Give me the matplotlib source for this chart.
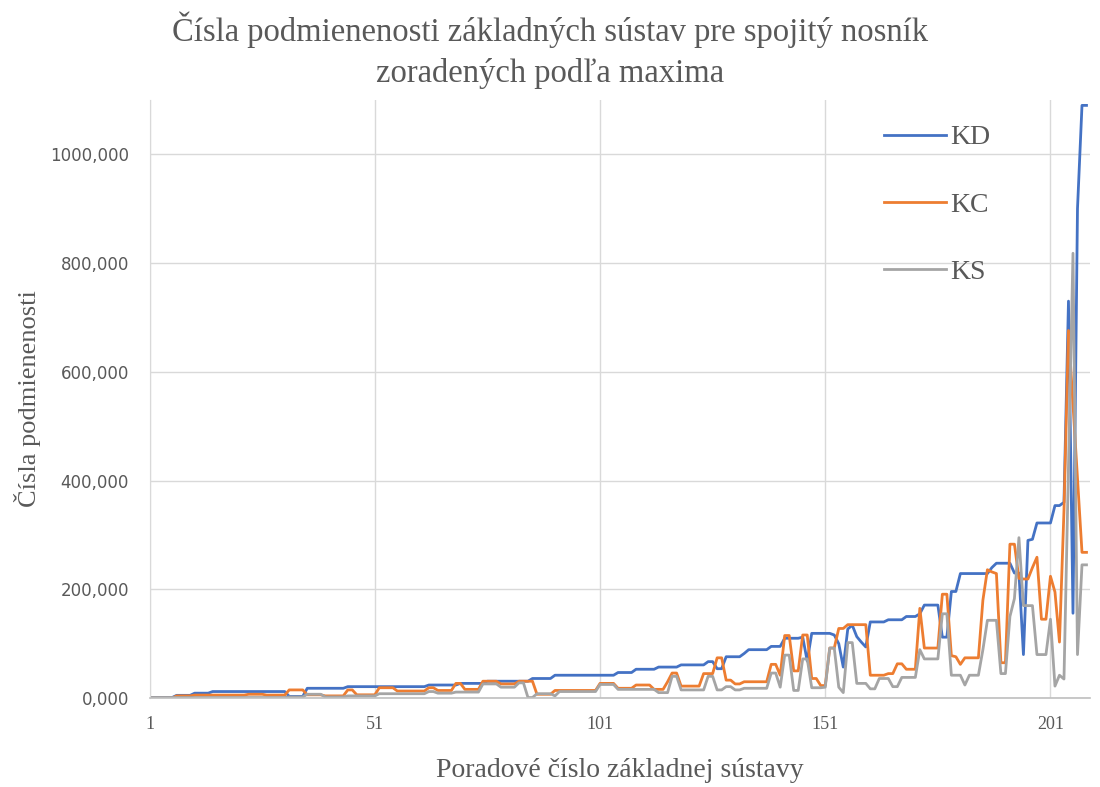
import matplotlib
matplotlib.use("Agg")
import matplotlib.pyplot as plt
from matplotlib.ticker import FuncFormatter, FixedLocator
import numpy as np

# series values (index 1..209)
kd = [1, 1, 1, 1, 1, 1, 5, 5, 5, 5,
      9, 9, 9, 9, 12, 12, 12, 12, 12, 12,
      12, 12, 12, 12, 12, 12, 12, 12, 12, 12,
      12, 3, 3, 3, 3, 18, 18, 18, 18, 18,
      18, 18, 18, 18, 21, 21, 21, 21, 21, 21,
      21, 21, 21, 21, 21, 21, 21, 21, 21, 21,
      21, 21, 24, 24, 24, 24, 24, 24, 24, 27,
      27, 27, 27, 27, 27, 31, 31, 31, 31, 31,
      31, 31, 31, 31, 31, 36, 36, 36, 36, 36,
      42, 42, 42, 42, 42, 42, 42, 42, 42, 42,
      42, 42, 42, 42, 47, 47, 47, 47, 53, 53,
      53, 53, 53, 57, 57, 57, 57, 57, 61, 61,
      61, 61, 61, 61, 67, 67, 54, 54, 76, 76,
      76, 76, 82, 89, 89, 89, 89, 89, 95, 95,
      95, 110, 110, 110, 110, 112, 68, 119, 119, 119,
      119, 119, 116, 100, 57, 127, 134, 113, 103, 94,
      140, 140, 140, 140, 144, 144, 144, 144, 150, 150,
      150, 155, 171, 171, 171, 171, 112, 112, 196, 196,
      229, 229, 229, 229, 229, 229, 229, 240, 248, 248,
      248, 248, 230, 230, 80, 290, 292, 322, 322, 322,
      322, 354, 354, 360, 730, 156, 900, 1090, 1090]

kc = [0, 0, 0, 0, 0, 0, 4, 4, 4, 4,
      5.5, 5.5, 5.5, 5.5, 5.5, 5.5, 5.5, 5.5, 5.5, 5.5,
      5.5, 5.5, 7, 7, 7, 7, 5.5, 5.5, 5.5, 5.5,
      5.5, 15, 15, 15, 15, 6, 6, 6, 6, 4,
      4, 4, 4, 4, 15, 15, 6, 6, 6, 6,
      6, 19, 19, 19, 19, 13, 13, 13, 13, 13,
      13, 13, 19, 19, 14, 14, 14, 14, 27, 27,
      16, 16, 16, 16, 31, 31, 31, 31, 26, 26,
      26, 26, 31, 31, 31, 31, 7, 7, 7, 7,
      14, 14, 14, 14, 14, 14, 14, 14, 14, 14,
      27, 27, 27, 27, 18, 18, 18, 18, 24, 24,
      24, 24, 16, 16, 16, 30, 46, 46, 22, 22,
      22, 22, 22, 45, 45, 45, 74, 74, 33, 33,
      26, 26, 30, 30, 30, 30, 30, 30, 62, 62,
      42, 115, 115, 50, 50, 116, 116, 36, 36, 23,
      23, 92, 92, 128, 128, 135, 135, 135, 135, 135,
      42, 42, 42, 42, 45, 45, 63, 63, 53, 53,
      53, 165, 92, 92, 92, 92, 191, 191, 78, 76,
      62, 74, 74, 74, 74, 180, 236, 232, 229, 65,
      65, 283, 283, 220, 219, 219, 240, 259, 145, 145,
      224, 195, 103, 345, 676, 540, 405, 268, 268]

ks = [1, 1, 1, 1, 1, 1, 1, 1, 1, 1,
      1, 1, 1, 1, 1, 1, 1, 1, 1, 1,
      1, 1, 1, 1, 1, 1, 1, 1, 1, 1,
      1, 2, 2, 2, 2, 7, 7, 7, 7, 2,
      2, 2, 2, 2, 4, 4, 4, 4, 4, 4,
      4, 8, 8, 8, 8, 8, 8, 8, 8, 8,
      8, 8, 12, 12, 9, 9, 9, 9, 11, 11,
      11, 11, 11, 11, 26, 26, 26, 26, 20, 20,
      20, 20, 28, 28, 1, 1, 8, 8, 8, 8,
      4, 12, 12, 12, 12, 12, 12, 12, 12, 12,
      25, 25, 25, 25, 16, 16, 16, 16, 16, 16,
      16, 16, 16, 10, 10, 10, 40, 40, 15, 15,
      15, 15, 15, 15, 40, 40, 15, 15, 21, 21,
      15, 15, 18, 18, 18, 18, 18, 18, 46, 46,
      20, 79, 79, 14, 14, 72, 72, 19, 19, 19,
      20, 92, 92, 20, 10, 102, 102, 27, 27, 27,
      17, 17, 36, 36, 36, 21, 21, 38, 38, 38,
      38, 89, 72, 72, 72, 72, 155, 155, 42, 42,
      42, 24, 42, 42, 42, 89, 143, 143, 143, 45,
      45, 150, 183, 295, 170, 170, 170, 80, 80, 80,
      145, 22, 42, 35, 430, 818, 80, 245, 245]

series_names = ["KD", "KC", "KS"]
series_colors = ["#4472C4", "#ED7D31", "#A5A5A5"]
x_ticks = [1, 51, 101, 151, 201]
y_ticks = [0, 200, 400, 600, 800, 1000]

x = np.arange(1, len(kd) + 1)

text_col = "#595959"
serif = "Liberation Serif"

fig = plt.figure(figsize=(11, 7.87), dpi=100)
ax = fig.add_axes([0.136, 0.113, 0.855, 0.760])

for vals, name, col in zip([kd, kc, ks], series_names, series_colors):
    ax.plot(x, vals, color=col, linewidth=2.0, label=name, solid_joinstyle="round")

ax.set_xlim(1, 209.8)
ax.set_ylim(0, 1100)
ax.xaxis.set_major_locator(FixedLocator(x_ticks))
ax.yaxis.set_major_locator(FixedLocator(y_ticks))
ax.yaxis.set_major_formatter(FuncFormatter(lambda v, p: ("%.3f" % v).replace(".", ",")))

ax.grid(True, color="#d9d9d9", linewidth=1.0)
ax.set_axisbelow(True)
for s in ["top", "right"]:
    ax.spines[s].set_visible(False)
ax.spines["left"].set_color("#d9d9d9")
ax.spines["bottom"].set_color("#bfbfbf")
ax.spines["bottom"].set_linewidth(1.2)
ax.tick_params(length=0, colors=text_col)
ax.tick_params(axis="y", labelsize=12, pad=15)
ax.tick_params(axis="x", labelsize=13, pad=13)
for lab in ax.get_xticklabels():
    lab.set_fontfamily(serif)

ax.set_xlabel("Poradové číslo základnej sústavy", fontfamily=serif, fontsize=20,
              color=text_col)
ax.xaxis.set_label_coords(0.5, -0.1)
ax.set_ylabel("Čísla podmienenosti", fontfamily=serif, fontsize=19,
              color=text_col)
ax.yaxis.set_label_coords(-0.116, 0.5)

fig.suptitle("Čísla podmienenosti základných sústav pre spojitý nosník\nzoradených podľa maxima",
             fontfamily=serif, fontsize=23.5, color=text_col, y=0.985, linespacing=1.4)

leg = ax.legend(loc="upper right", bbox_to_anchor=(0.92, 1.0), frameon=False,
                prop={"family": serif, "size": 20}, labelspacing=1.5,
                handlelength=2.2, handletextpad=0.15)
for t in leg.get_texts():
    t.set_color(text_col)

fig.savefig("out.png", dpi=100)
